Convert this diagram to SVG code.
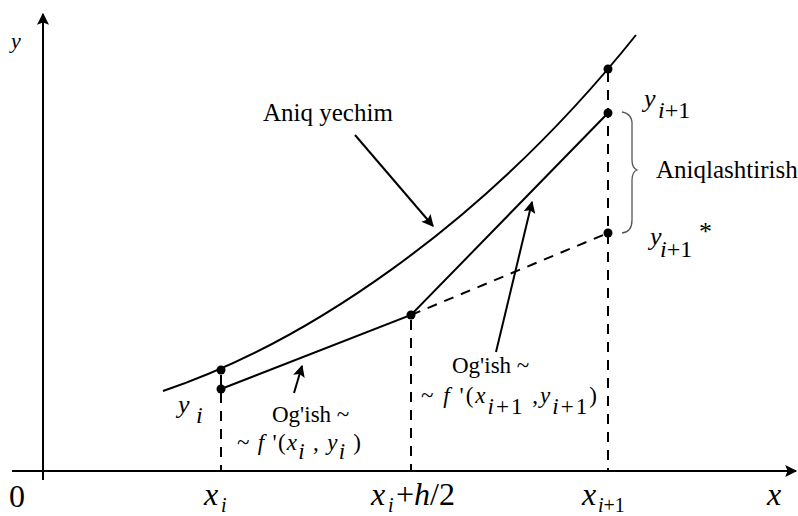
<svg xmlns="http://www.w3.org/2000/svg" width="798" height="516" viewBox="0 0 798 516">
<defs>
<marker id="ah2" viewBox="0 0 10 10" refX="9" refY="5" markerWidth="14" markerHeight="12" orient="auto" markerUnits="userSpaceOnUse">
<path d="M0,0 L10,5 L0,10 L2,5 Z" fill="#000"/>
</marker>
<style>
.ln{stroke:#000;stroke-width:2;fill:none}
.ax{stroke:#000;stroke-width:2;fill:none}
.dash{stroke:#000;stroke-width:2;fill:none;stroke-dasharray:10 8}
.dot{fill:#000}
text{font-family:'Liberation Serif','Times New Roman',Times,'DejaVu Serif',serif;fill:#000}
.it{font-style:italic}
.brace{stroke:#555;stroke-width:1.3;fill:none}
</style>
</defs>
<rect width="798" height="516" fill="#fff"/>

<g id="axes">
<line class="ax" x1="43" y1="480" x2="43" y2="14" marker-end="url(#ah2)"/>
<line class="ax" x1="12" y1="471" x2="796" y2="471" marker-end="url(#ah2)"/>
</g>

<g id="connectors">
<path id="exact" class="ln" d="M163,391 C300,345 480,230 636,35"/>
<polyline id="approx" class="ln" points="221,389 411,315 608,113"/>
<line class="dash" x1="411" y1="315" x2="608" y2="233"/>
<line class="dash" x1="221" y1="375" x2="221" y2="471"/>
<line class="dash" x1="411" y1="320" x2="411" y2="471"/>
<line class="dash" x1="608" y1="72" x2="608" y2="471"/>
<line class="ln" x1="355" y1="135" x2="433" y2="226" marker-end="url(#ah2)"/>
<line class="ln" x1="294" y1="393" x2="302" y2="366" marker-end="url(#ah2)"/>
<line class="ln" x1="496" y1="352" x2="532" y2="202" marker-end="url(#ah2)"/>
<path class="brace" d="M622,112 Q633,114 632,126 L632,160 Q632,168 637,170 Q632,172 632,180 L632,220 Q632,232 622,233"/>
</g>

<g id="points">
<circle class="dot" cx="221" cy="370" r="4.5"/>
<circle class="dot" cx="221" cy="389" r="4.5"/>
<circle class="dot" cx="411" cy="315" r="4.5"/>
<circle class="dot" cx="608" cy="69" r="4.5"/>
<circle class="dot" cx="608" cy="113" r="4.5"/>
<circle class="dot" cx="608" cy="233" r="4.5"/>
</g>

<g id="labels" font-family="Liberation Serif, Times New Roman, serif">
<text class="it" x="11" y="48" font-size="22">y</text>
<text x="263" y="121" font-size="25">Aniq yechim</text>
<text x="656" y="178" font-size="25">Aniqlashtirish</text>
<text class="it" x="644" y="107" font-size="26">y</text>
<text x="658" y="118" font-size="24"><tspan font-style="italic">i</tspan>+1</text>
<text class="it" x="650" y="245" font-size="26">y</text>
<text x="660" y="257" font-size="24"><tspan font-style="italic">i</tspan>+1</text>
<text x="699" y="240" font-size="26">*</text>
<text class="it" x="178" y="413" font-size="26">y</text>
<text class="it" x="196" y="423" font-size="24">i</text>
<text x="272" y="422" font-size="23">Og'ish ~</text>
<text x="237" y="450" font-size="23" textLength="124" lengthAdjust="spacing">~ <tspan font-style="italic">f</tspan> '(<tspan font-style="italic">x</tspan><tspan font-style="italic" dy="9">i</tspan><tspan dy="-9"> , </tspan><tspan font-style="italic">y</tspan><tspan font-style="italic" dy="9">i</tspan><tspan dy="-9"> )</tspan></text>
<text x="452" y="373" font-size="23">Og'ish  ~</text>
<text x="421" y="403" font-size="23" textLength="176" lengthAdjust="spacing">~ <tspan font-style="italic">f</tspan> '(<tspan font-style="italic">x</tspan><tspan dy="11"><tspan font-style="italic">i</tspan>+1</tspan><tspan dy="-11"> ,</tspan><tspan font-style="italic">y</tspan><tspan dy="11"><tspan font-style="italic">i</tspan>+1</tspan><tspan dy="-11">)</tspan></text>
<text x="9" y="507" font-size="32">0</text>
<text class="it" x="204" y="505" font-size="32">x</text>
<text class="it" x="221" y="512" font-size="20">i</text>
<text x="371" y="505" font-size="32"><tspan font-style="italic">x</tspan></text>
<text class="it" x="388" y="512" font-size="20">i</text>
<text x="396" y="505" font-size="32">+<tspan font-style="italic">h</tspan>/2</text>
<text class="it" x="582" y="505" font-size="32">x</text>
<text x="598" y="512" font-size="20"><tspan font-style="italic">i</tspan>+1</text>
<text class="it" x="767" y="505" font-size="32">x</text>
</g>
</svg>
